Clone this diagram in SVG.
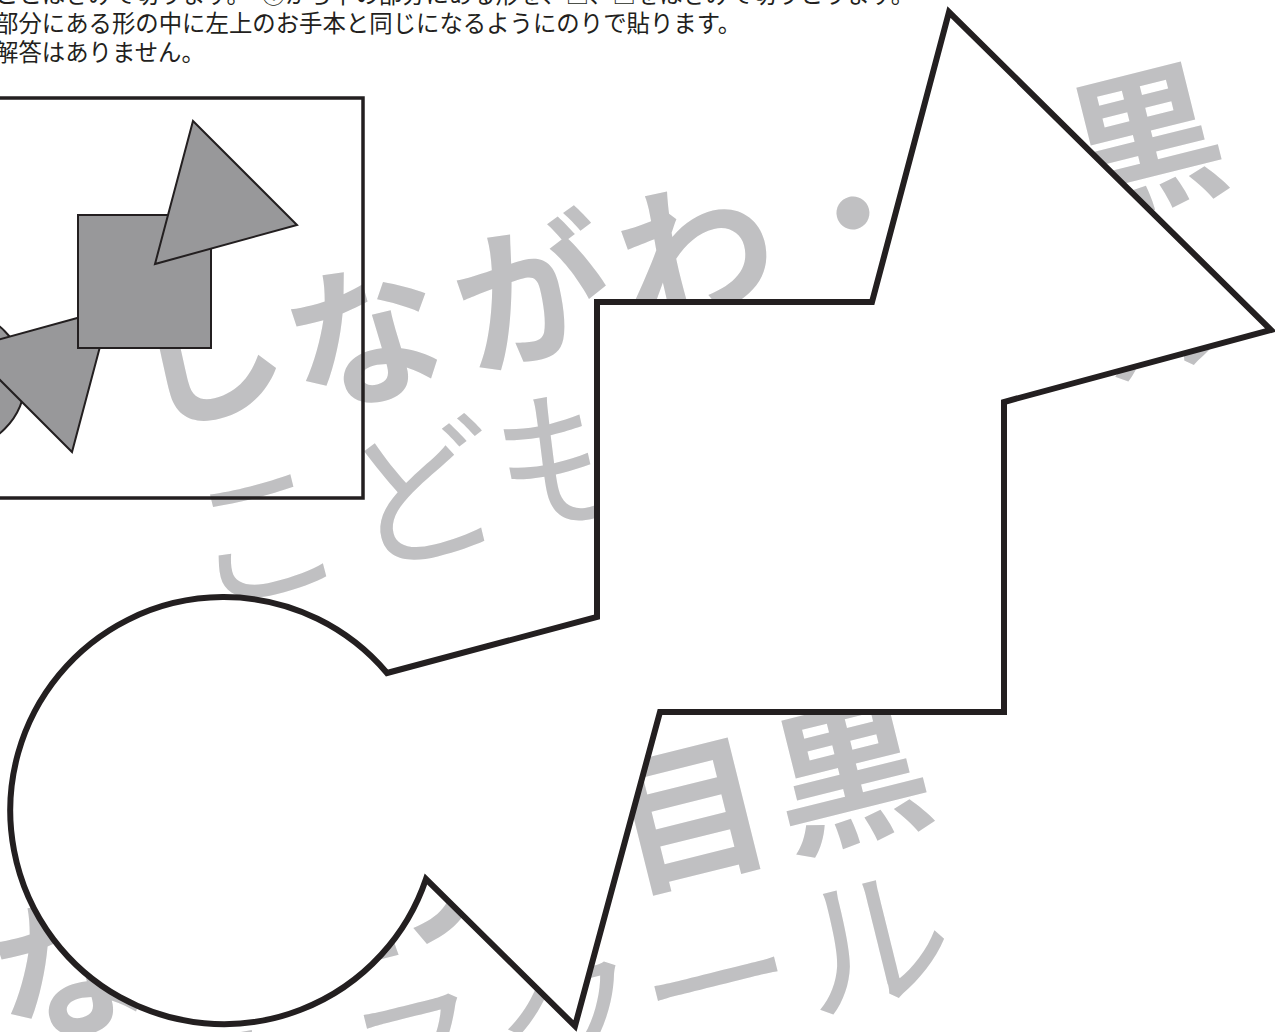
<svg xmlns="http://www.w3.org/2000/svg" xmlns:xlink="http://www.w3.org/1999/xlink" width="1275" height="1032" viewBox="0 0 1275 1032">
<style>
.wmA{font-family:"Noto Sans CJK JP","Noto Sans CJK SC",sans-serif;font-size:155px;font-weight:700;fill:#c0c0c2}
.wmB{font-family:"Noto Sans CJK JP","Noto Sans CJK SC",sans-serif;font-size:155px;font-weight:400;fill:#c0c0c2}
.hdr{font-family:"Noto Sans CJK JP","Noto Sans CJK SC",sans-serif;font-size:23.4px;fill:#231f20}
.piece{fill:#98989a;stroke:#231f20;stroke-width:2}
.frame{fill:none;stroke:#231f20;stroke-width:3.5}
.outline{fill:#fff;stroke:#231f20;stroke-width:6}
</style>
<defs>
<g id="wm">
<text class="wmA" transform="translate(364,335) rotate(-14)" x="-158 0 173 342 504 640 804" y="36 59 59 59 59 59 59" text-anchor="middle">しながわ<tspan font-weight="400">・</tspan>目黒</text>
<text class="wmB" transform="translate(262,533) rotate(-14)" x="0 165 318 470 620 772 933" y="59" text-anchor="middle">こどもスクール</text>
</g>
</defs>
<rect width="1275" height="1032" fill="#fff"/>
<g id="watermark">
<use href="#wm" xlink:href="#wm"/>
<use href="#wm" xlink:href="#wm" transform="translate(-295,633)"/>
</g>
<g id="header">
<text class="hdr" x="-5" y="3">ことはさみで切ります。　①から下の部分にある形を、□、□をはさみで切りとります。</text>
<text class="hdr" x="-5" y="32">部分にある形の中に左上のお手本と同じになるようにのりで貼ります。</text>
<text class="hdr" x="-5" y="61">解答はありません。</text>
</g>
<g id="sample">
<rect class="frame" x="-20" y="98" width="383" height="400"/>
<circle class="piece" cx="-44" cy="380" r="69"/>
<polygon class="piece" points="72,452 -32,348 110,309"/>
<rect class="piece" x="78" y="215" width="133" height="133"/>
<polygon class="piece" points="193,121 297,225 155,264"/>
</g>
<g id="cutout">
<path class="outline" d="M597,302 L872,302 L949,12 L1271,330 L1004,402 L1004,712 L660,712 L575,1026 L426,879 A213.5 213.5 0 1 1 387,673 L597,617 Z"/>
</g>
</svg>
